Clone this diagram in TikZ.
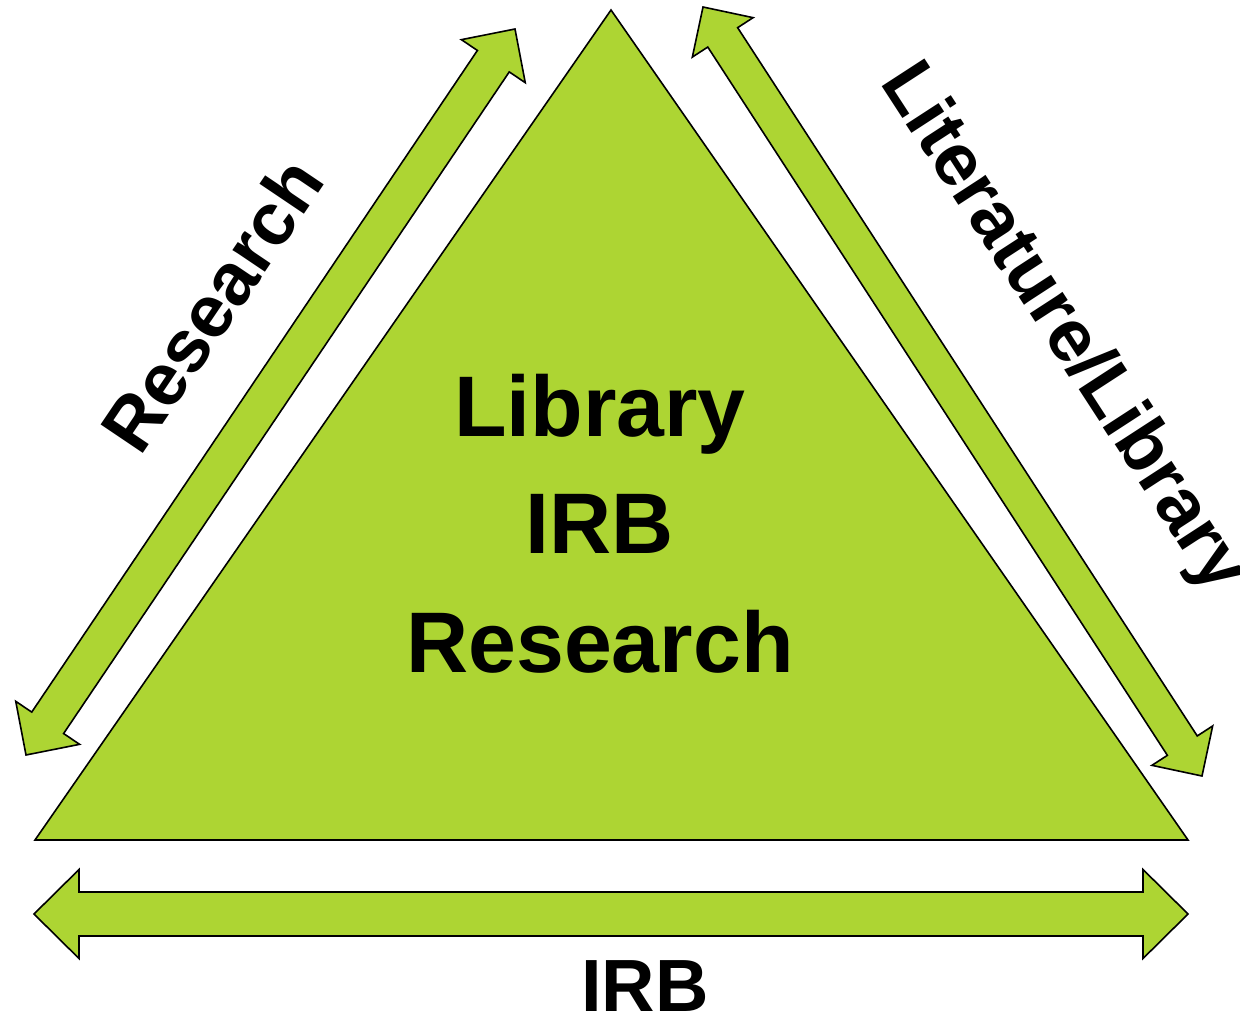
\documentclass[tikz,border=0pt]{standalone}
\usepackage{fontspec}
\setmainfont{Liberation Sans}
\usetikzlibrary{calc}
\definecolor{leaf}{RGB}{173,213,51}
\tikzset{
  shape fill/.style={fill=leaf,draw=black,line width=0.8pt,line join=miter},
  bigtxt/.style={inner sep=0pt,font=\bfseries\fontsize{43}{43}\selectfont},
  sidetxt/.style={inner sep=0pt,font=\bfseries\fontsize{37}{37}\selectfont}
}
% double block arrow: #1 tip A, #2 tip B, #3 head length, #4 head half width, #5 shaft half width
\newcommand\dblblockarrow[5]{%
  \path ($(#1)!#3!(#2)$) coordinate (hA) ($(#2)!#3!(#1)$) coordinate (hB);
  \fill[shape fill] (#1)
    -- ($(hA)!#4!90:(#2)$) -- ($(hA)!#5!90:(#2)$)
    -- ($(hB)!#5!-90:(#1)$) -- ($(hB)!#4!-90:(#1)$)
    -- (#2)
    -- ($(hB)!#4!90:(#1)$) -- ($(hB)!#5!90:(#1)$)
    -- ($(hA)!#5!-90:(#2)$) -- ($(hA)!#4!-90:(#2)$)
    -- cycle;}
\begin{document}
\begin{tikzpicture}[x=0.5pt,y=-0.5pt]
\useasboundingbox (0,0) rectangle (1240,1016);
% triangle
\coordinate (apex) at (611,10);
\coordinate (bl) at (35,840);
\coordinate (br) at (1188,840);
\fill[shape fill] (apex) -- (br) -- (bl) -- cycle;
% arrows
\coordinate (la) at (26,755);
\coordinate (lb) at (515,29);
\dblblockarrow{la}{lb}{19.4pt}{19.25pt}{9.6pt}
\coordinate (ra) at (703,7);
\coordinate (rb) at (1202,776);
\dblblockarrow{ra}{rb}{18.1pt}{18.1pt}{8.9pt}
\coordinate (ba) at (34,914);
\coordinate (bb) at (1188,914);
\dblblockarrow{ba}{bb}{22.5pt}{22.25pt}{11pt}
% texts
\node[bigtxt,anchor=base] (t1) at (600,436) {Library};
\node[bigtxt,anchor=base] (t2) at (600,553) {IRB};
\node[bigtxt,anchor=base] (t3) at (600,672) {Research};
\node[sidetxt,anchor=base] (birb) at (645,1011) {IRB};
\node[sidetxt,anchor=base west,rotate=56] (lres) at (140,458) {Research};
\node[sidetxt,anchor=base west,rotate=-57] (rlit) at (879,82) {Literature/Library};
\end{tikzpicture}
\end{document}
